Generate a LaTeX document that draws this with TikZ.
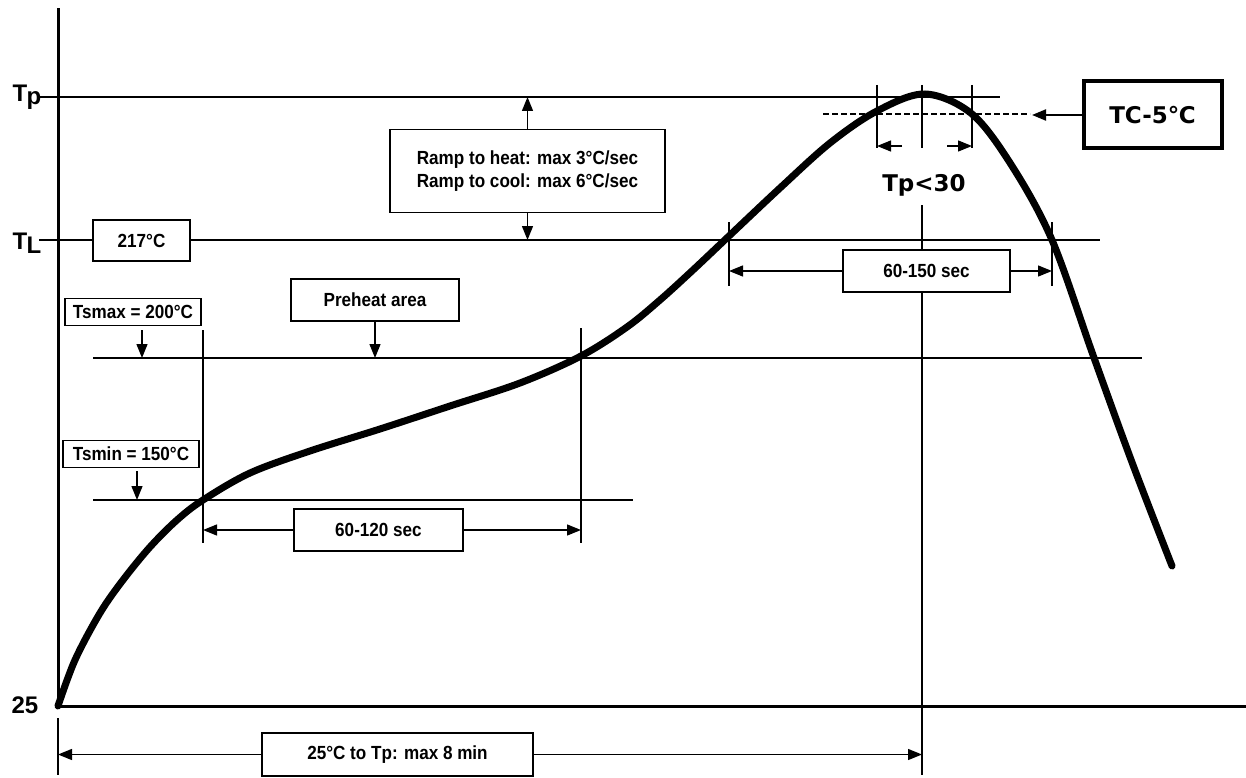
\documentclass[tikz,border=0pt]{standalone}
\usepackage{fontspec}
\setmainfont{Liberation Sans}
\newfontfamily\labfont{Liberation Sans}[FakeStretch=0.9]
\newfontfamily\verdfont{DejaVu Sans}
\usetikzlibrary{arrows.meta}
\begin{document}
\begin{tikzpicture}[x=1pt,y=-1pt,
  thin line/.style={line width=1.3pt},
  axisline/.style={line width=3pt},
  arr/.style={line width=1.3pt,-{Triangle[length=14pt,width=11pt]}},
  lbox/.style={draw,line width=1.3pt,fill=white,inner sep=0pt,
    font=\labfont\bfseries\fontsize{19}{23}\selectfont,align=center},
  biglab/.style={inner sep=0pt,font=\bfseries\fontsize{24}{26}\selectfont},
  curve/.style={line width=7pt,line cap=round,line join=round}]
\useasboundingbox (0,0) rectangle (1246,778);
% coordinates
\coordinate (tpL) at (39,97);  \coordinate (tpR) at (1000,97);
\coordinate (tlL) at (39,240); \coordinate (tlR) at (1100,240);
\coordinate (smaxL) at (93,358); \coordinate (smaxR) at (1142,358);
\coordinate (sminL) at (93,500); \coordinate (sminR) at (633,500);
\coordinate (o) at (58,706); \coordinate (ytop) at (58,8); \coordinate (xR) at (1246,706);
% axes
\draw[axisline] (o) -- (ytop);
\draw[axisline] (o) -- (xR);
% horizontal lines
\draw[thin line] (tpL) -- (tpR);
\draw[thin line] (tlL) -- (tlR);
\draw[thin line] (smaxL) -- (smaxR);
\draw[thin line] (sminL) -- (sminR);
% vertical lines
\coordinate (v1a) at (203,330); \coordinate (v1b) at (203,543);
\coordinate (v2a) at (581,328); \coordinate (v2b) at (581,543);
\coordinate (v3a) at (729,222); \coordinate (v3b) at (729,286);
\coordinate (v4a) at (1052,222); \coordinate (v4b) at (1052,286);
\coordinate (pka) at (922,85); \coordinate (pkb) at (922,148);
\coordinate (pkc) at (922,205); \coordinate (pkd) at (922,775);
\coordinate (ta) at (877,85); \coordinate (tb) at (877,148);
\coordinate (tc1) at (972,85); \coordinate (tc2) at (972,148);
\coordinate (z0a) at (58,718); \coordinate (z0b) at (58,775);
\draw[thin line] (v1a) -- (v1b);
\draw[thin line] (v2a) -- (v2b);
\draw[thin line] (v3a) -- (v3b);
\draw[thin line] (v4a) -- (v4b);
\draw[thin line] (pka) -- (pkb);
\draw[thin line] (pkc) -- (pkd);
\draw[thin line] (ta) -- (tb);
\draw[thin line] (tc1) -- (tc2);
\draw[thin line] (z0a) -- (z0b);
% dashed TC line
\coordinate (dL) at (823,114); \coordinate (dR) at (1030,114);
\draw[thin line,dashed,dash pattern=on 6pt off 3pt] (dL) -- (dR);
% curve
\draw[curve] plot[smooth,tension=0.55] coordinates {
 (58,706) (75,660) (100,613) (123,580) (150,547) (177,520) (203,500)
 (250,473) (310,451) (380,429) (450,406) (520,383) (581,356)
 (627,327) (660,300) (693,270) (729,236) (780,188) (830,143) (877,111)
 (925,94) (972,114) (1012,166) (1052,240) (1093,355) (1133,465)
 (1172,566)};
% axis labels
\node[biglab] (tpT) at (20,93) {T};
\node[biglab] (tpS) at (34,101) {p};
\node[biglab] (tlT) at (20,241) {T};
\node[biglab] (tlS) at (34,245) {L};
\node[biglab] (z25) at (25,705) {25};
% boxes
\node[lbox,minimum width=97pt,minimum height=41pt] (t217) at (141.5,240.5) {217°C};
\node[lbox,minimum width=275pt,minimum height=83pt] (ramp) at (527.5,171) {Ramp to heat: max 3°C/sec\\Ramp to cool: max 6°C/sec};
\node[lbox,minimum width=136pt,minimum height=27pt] (tsmax) at (133,312) {Tsmax = 200°C};
\node[lbox,minimum width=168pt,minimum height=42pt] (preheat) at (375,300) {Preheat area};
\node[lbox,minimum width=136pt,minimum height=27pt] (tsmin) at (131,454) {Tsmin = 150°C};
\node[lbox,minimum width=169pt,minimum height=42pt] (s120) at (378.5,530) {60-120 sec};
\node[lbox,minimum width=167pt,minimum height=42pt] (s150) at (926.5,271) {60-150 sec};
\node[lbox,minimum width=271pt,minimum height=43pt] (tot) at (397.5,754.5) {25°C to Tp: max 8 min};
\node[draw,line width=4pt,fill=white,minimum width=138pt,minimum height=67pt,inner sep=0pt,
  font=\verdfont\bfseries\fontsize{23}{26}\selectfont] (tc) at (1152.5,115) {TC-5℃};
\node[inner sep=0pt,font=\verdfont\bfseries\fontsize{23}{26}\selectfont] (tp30) at (924,185) {Tp<30};
% arrows
\coordinate (rampU) at (527.5,97); \coordinate (rampD) at (527.5,240);
\draw[arr] (ramp.north) -- (rampU);
\draw[arr] (ramp.south) -- (rampD);
\coordinate (smaxA) at (142,330); \coordinate (smaxB) at (142,358);
\draw[arr] (smaxA) -- (smaxB);
\coordinate (preB) at (375,358);
\draw[arr] (preheat.south) -- (preB);
\coordinate (sminA) at (137,471); \coordinate (sminB) at (137,500);
\draw[arr] (sminA) -- (sminB);
\coordinate (a120L) at (203,530); \coordinate (a120R) at (581,530);
\draw[arr] (s120.west) -- (a120L);
\draw[arr] (s120.east) -- (a120R);
\coordinate (a150L) at (729,271); \coordinate (a150R) at (1052,271);
\draw[arr] (s150.west) -- (a150L);
\draw[arr] (s150.east) -- (a150R);
\coordinate (atL) at (58,754.5); \coordinate (atR) at (922,754.5);
\draw[arr] (tot.west) -- (atL);
\draw[arr] (tot.east) -- (atR);
\coordinate (p30a) at (902,146); \coordinate (p30b) at (877,146);
\coordinate (p30c) at (947,146); \coordinate (p30d) at (972,146);
\draw[arr] (p30a) -- (p30b);
\draw[arr] (p30c) -- (p30d);
\coordinate (tcA) at (1032,115);
\draw[arr,line width=2pt] (tc.west) -- (tcA);
\end{tikzpicture}
\end{document}
